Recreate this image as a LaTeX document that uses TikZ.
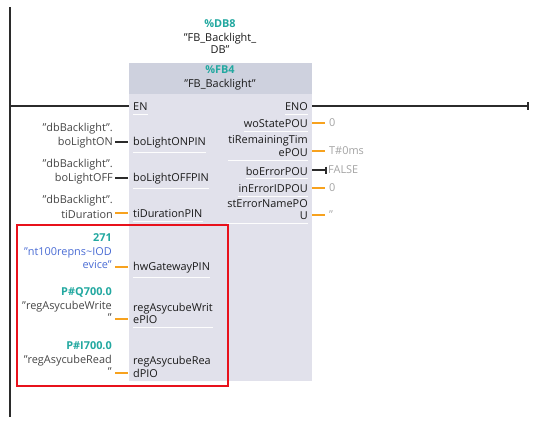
\documentclass[tikz,border=0pt]{standalone}
\usepackage{fontspec}
\setmainfont{Open Sans}
\usepackage{tikz}
\usetikzlibrary{arrows.meta,calc,positioning}
\usepackage{xcolor}
\definecolor{railgray}{HTML}{2B2B2B}
\definecolor{headgray}{HTML}{CED1DE}
\definecolor{bodygray}{HTML}{E1E1EB}
\definecolor{pinblack}{HTML}{1A1A1A}
\definecolor{opgray}{HTML}{454545}
\definecolor{constgray}{HTML}{A3A3A3}
\definecolor{addrteal}{HTML}{22A8A0}
\definecolor{symblue}{HTML}{4A6CD4}
\definecolor{wireorange}{HTML}{F7A21E}
\definecolor{markred}{HTML}{E8111B}
\newcommand{\diagfont}{\fontsize{10.9}{12.5}\selectfont}
\newcommand{\addrtxt}[1]{{\color{addrteal}\bfseries #1}}
\newcommand{\dq}{\symbol{34}}

\begin{document}
\begin{tikzpicture}[x=1pt,y=-1pt,
  every node/.style={inner sep=0pt,font=\diagfont},
  pinin/.style={anchor=west,align=left,text=pinblack},
  pinout/.style={anchor=east,align=right,text=pinblack},
  operand/.style={anchor=east,align=right,text=opgray},
  constval/.style={anchor=west,text=constgray},
  addr/.style={text=addrteal,font=\diagfont\bfseries},
  wire/.style={line width=1.6pt,wireorange},
  boolwire/.style={line width=1.6pt,railgray},
  sepline/.style={white!92!bodygray,line width=0.8pt}]
  \useasboundingbox (0,0) rectangle (539,423);

  % power rail and block
  \draw[railgray,line width=1.6pt] (10,7) -- (10,417);
  \node[fill=headgray,anchor=north west,minimum width=183,minimum height=31] (fbhead) at (129,63) {};
  \node[fill=bodygray,anchor=north west,minimum width=183,minimum height=287] (fb) at (129,94) {};

  % instance and block names
  \node[addr] (dbnum) at (220,23.5) {\%DB8};
  \node[align=center,text=pinblack] (dbname) at (220,43.5) {\dq FB\_Backlight\_\\DB\dq};
  \node[addr] (fbnum) at (220,69.5) {\%FB4};
  \node[text=pinblack] (fbname) at (220,84.5) {\dq FB\_Backlight\dq};

  % EN / ENO
  \node[pinin] (pEN) at (133,107) {EN};
  \node[pinout] (pENO) at (308,107) {ENO};
  \coordinate (railEN) at (10,106);
  \coordinate (railENO) at (529,106);
  \draw[boolwire] (railEN) -- (fb.west |- railEN);
  \draw[boolwire,-{Bar[width=8pt]}] (fb.east |- railENO) -- (railENO);

  % inputs
  \node[pinin] (pON) at (133,143) {boLightONPIN};
  \node[pinin] (pOFF) at (133,179) {boLightOFFPIN};
  \node[pinin] (pDur) at (133,214) {tiDurationPIN};
  \node[pinin] (pGw) at (133,268) {hwGatewayPIN};
  \node[pinin] (pWr) at (133,313.5) {regAsycubeWrit\\ePIO};
  \node[pinin] (pRd) at (133,367) {regAsycubeRea\\dPIO};

  \node[operand] (lON) at (113,135.5) {\dq dbBacklight\dq.\\[2pt]boLightON};
  \node[operand] (lOFF) at (113,171.5) {\dq dbBacklight\dq.\\[2pt]boLightOFF};
  \node[operand] (lDur) at (113,207) {\dq dbBacklight\dq.\\[2pt]tiDuration};
  \node[operand] (lGw) at (112,251) {\addrtxt{271}\\[2pt]\textcolor{symblue}{\dq nt100repns\textasciitilde IOD}\\\textcolor{symblue}{evice\dq}};
  \node[operand] (lWr) at (112,305) {\addrtxt{P\#Q700.0}\\[1pt]\dq regAsycubeWrite\\\dq};
  \node[operand] (lRd) at (112,359) {\addrtxt{P\#I700.0}\\[1pt]\dq regAsycubeRead\\\dq};

  \coordinate (inON) at (129,142);
  \coordinate (inOFF) at (129,178);
  \coordinate (inDur) at (129,213);
  \coordinate (inGw) at (129,267);
  \coordinate (inWr) at (129,319);
  \coordinate (inRd) at (129,373);
  \draw[boolwire] ($(lON.east |- inON)+(2,0)$) -- ($(inON)+(-1,0)$);
  \draw[boolwire] ($(lOFF.east |- inOFF)+(2,0)$) -- ($(inOFF)+(-1,0)$);
  \draw[wire] ($(lDur.east |- inDur)+(2,0)$) -- ($(inDur)+(-1,0)$);
  \draw[wire] ($(lGw.east |- inGw)+(3,0)$) -- ($(inGw)+(-1,0)$);
  \draw[wire] ($(lWr.east |- inWr)+(3,0)$) -- ($(inWr)+(-1,0)$);
  \draw[wire] ($(lRd.east |- inRd)+(3,0)$) -- ($(inRd)+(-1,0)$);

  % outputs
  \node[pinout] (oSt) at (308,124) {woStatePOU};
  \node[pinout] (oRem) at (308,146) {tiRemainingTim\\ePOU};
  \node[pinout] (oErr) at (308,171) {boErrorPOU};
  \node[pinout] (oEid) at (308,189) {inErrorIDPOU};
  \node[pinout] (oNam) at (308,209.5) {stErrorNamePO\\U};

  \node[constval] (cSt) at (329,123) {0};
  \node[constval] (cRem) at (329,151) {T\#0ms};
  \node[constval] (cErr) at (328,170) {FALSE};
  \node[constval] (cEid) at (329,188) {0};
  \node[constval] (cNam) at (329,215) {\symbol{39}\symbol{39}};

  \draw[wire] (fb.east |- cSt.west) -- ($(cSt.west)+(-4,0)$);
  \draw[wire] (fb.east |- cRem.west) -- ($(cRem.west)+(-4,0)$);
  \draw[boolwire,-{Bar[width=7pt]}] (fb.east |- cErr.west) -- ($(cErr.west)+(-1.5,0)$);
  \draw[wire] (fb.east |- cEid.west) -- ($(cEid.west)+(-4,0)$);
  \draw[wire] (fb.east |- cNam.west) -- ($(cNam.west)+(-4,0)$);

  % thin separators under the pin names
  \foreach \p in {pEN,pON,pOFF,pDur,pGw,pWr,pRd,pENO,oSt,oRem,oErr,oEid,oNam}
    \draw[sepline] ($(\p.south west)+(0,3.5)$) -- ($(\p.south east)+(0,3.5)$);

  % highlight
  \draw[markred,line width=2pt] (17,225) rectangle (228,386);
\end{tikzpicture}
\end{document}
